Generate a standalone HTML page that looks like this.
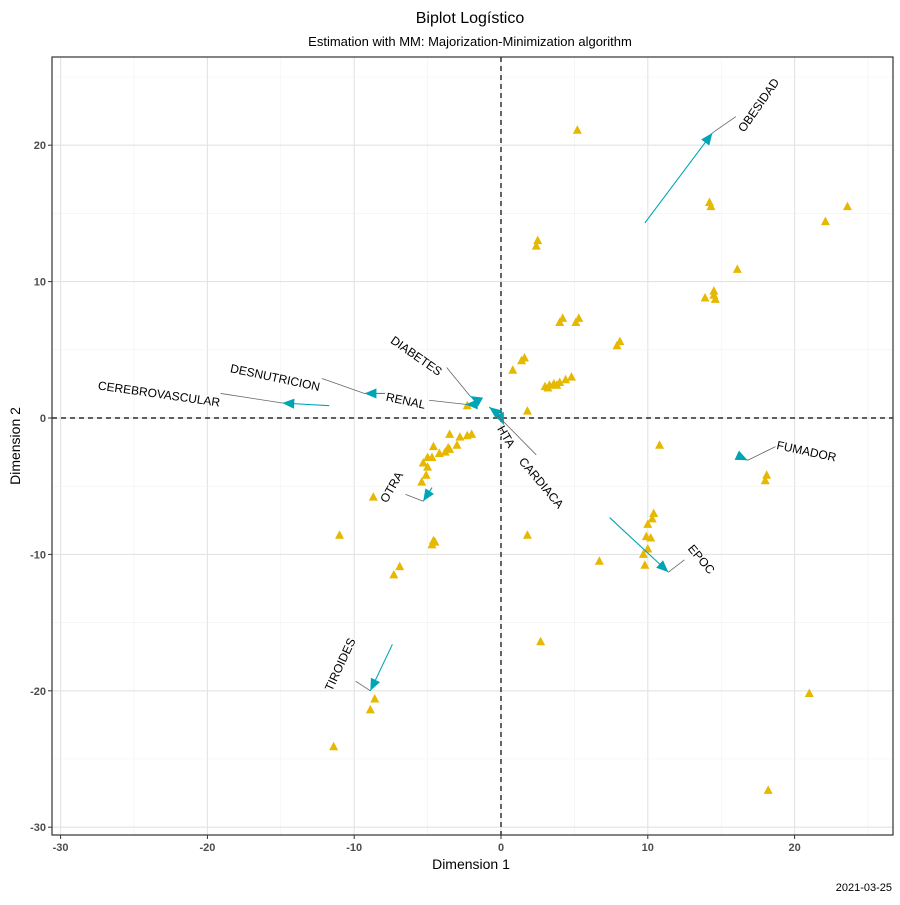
<!DOCTYPE html>
<html><head><meta charset="utf-8"><style>
body{margin:0;background:#fff;font-family:"Liberation Sans",sans-serif}
svg text{font-family:"Liberation Sans",sans-serif}
</style></head><body>
<svg id="c" width="900" height="900" xmlns="http://www.w3.org/2000/svg">
<rect width="900" height="900" fill="#fff"/>
<text x="470" y="23" text-anchor="middle" font-size="16">Biplot Logístico</text>
<text x="470" y="46" text-anchor="middle" font-size="13">Estimation with MM: Majorization-Minimization algorithm</text>
<g id="grid"></g><g id="marks"></g><g id="axes"></g>
<text x="471" y="869" text-anchor="middle" font-size="14">Dimension 1</text>
<text transform="translate(20,446) rotate(-90)" text-anchor="middle" font-size="14">Dimension 2</text>
<text x="892" y="891" text-anchor="end" font-size="11">2021-03-25</text>
</svg>
<script>
const xTicks=[-30,-20,-10,0,10,20];
const yTicks=[-30,-20,-10,0,10,20];
const ptX=[5.2,2.5,2.4,4.0,4.2,5.1,5.3,7.9,8.1,1.6,1.4,0.8,3.0,3.3,3.6,4.0,4.4,4.8,3.2,3.8,1.8,-2.3,14.3,14.2,22.1,23.6,16.1,13.9,14.5,14.5,14.6,10.8,18.1,18.0,10.4,10.3,10.0,9.9,10.0,9.7,9.8,10.2,6.7,1.8,2.7,21.0,18.2,-11.0,-11.4,-8.6,-8.9,-6.9,-7.3,-4.6,-4.7,-4.5,-8.7,-3.5,-2.8,-2.0,-2.3,-4.6,-3.6,-3.8,-4.2,-4.7,-5.0,-5.3,-5.0,-5.1,-5.4,-3.5,-3.0];
const ptY=[21.1,13.0,12.6,7.0,7.3,7.0,7.3,5.3,5.6,4.4,4.2,3.5,2.3,2.4,2.5,2.6,2.8,3.0,2.2,2.4,0.5,0.9,15.5,15.8,14.4,15.5,10.9,8.8,9.0,9.3,8.7,-2.0,-4.2,-4.6,-7.0,-7.4,-7.8,-8.7,-9.6,-10.0,-10.8,-8.8,-10.5,-8.6,-16.4,-20.2,-27.3,-8.6,-24.1,-20.6,-21.4,-10.9,-11.5,-9.0,-9.3,-9.1,-5.8,-1.2,-1.4,-1.2,-1.3,-2.1,-2.2,-2.5,-2.6,-2.9,-2.9,-3.3,-3.6,-4.2,-4.7,-2.3,-2.0];
const varNames=["OBESIDAD","CEREBROVASCULAR","DESNUTRICION","RENAL","DIABETES","HTA","CARDIACA","OTRA","FUMADOR","EPOC","TIROIDES"];
const arrX0=[9.8,-11.7,-7.9,-1.6,-1.6,0,-0.2,-4.7,16.2,7.4,-7.4];
const arrY0=[14.3,0.9,1.8,1.0,1.3,0,0.3,-5.1,-2.8,-7.3,-16.6];
const arrX1=[14.4,-14.9,-9.3,-2.4,-2.1,0.2,-0.8,-5.3,16.8,11.4,-8.9];
const arrY1=[20.9,1.1,1.8,1.0,1.6,-0.5,0.8,-6.1,-3.1,-11.3,-20.0];
const conX=[16.0,-19.1,-12.2,-4.9,-3.7,0.2,2.4,-6.5,18.7,12.5,-9.9];
const conY=[22.1,1.8,2.9,1.3,3.7,-0.5,-2.7,-5.6,-2.1,-10.4,-19.3];
const labX=[17.6,-23.3,-15.4,-6.5,-5.8,0.3,2.7,-7.4,20.8,13.6,-10.9];
const labY=[22.9,1.7,2.9,1.2,4.5,-1.4,-4.8,-5.1,-2.5,-10.4,-18.1];
const labAng=[-55,8,12,12,35,60,50,-60,12,50,-65];

const L=52,R=893,T=57,B=835;
const sx=v=>501+14.68*v, sy=v=>418-13.64*v;
const NS="http://www.w3.org/2000/svg";
function mk(p,tag,a){const e=document.createElementNS(NS,tag);for(const k in a)e.setAttribute(k,a[k]);p.appendChild(e);return e;}
const grid=document.getElementById('grid'),marks=document.getElementById('marks'),axes=document.getElementById('axes');
mk(grid,'rect',{x:L,y:T,width:R-L,height:B-T,fill:'#fff'});
for(let v=-30;v<=25;v+=5){const maj=v%10===0;
 let g=mk(grid,'line',{x1:sx(v),x2:sx(v),y1:T,y2:B,stroke:maj?'#e3e3e3':'#f1f1f1','stroke-width':maj?1.1:0.6});
 }
for(let v=-30;v<=25;v+=5){const maj=v%10===0;
 let g=mk(grid,'line',{y1:sy(v),y2:sy(v),x1:L,x2:R,stroke:maj?'#e3e3e3':'#f1f1f1','stroke-width':maj?1.1:0.6});
 }
let h=mk(marks,'line',{x1:L,x2:R,y1:sy(0),y2:sy(0),stroke:'#000','stroke-dasharray':'5,4','stroke-width':1.2});

let vv=mk(marks,'line',{y1:T,y2:B,x1:sx(0),x2:sx(0),stroke:'#000','stroke-dasharray':'5,4','stroke-width':1.2});

for(let i=0;i<ptX.length;i++){const x=sx(ptX[i]),y=sy(ptY[i]);
 const p=mk(marks,'polygon',{points:`${x},${y-5} ${x-4.5},${y+3.5} ${x+4.5},${y+3.5}`,fill:'#E6B800'});
 }
for(let i=0;i<varNames.length;i++){
 const x0=sx(arrX0[i]),y0=sy(arrY0[i]),x1=sx(arrX1[i]),y1=sy(arrY1[i]);
 const c=mk(marks,'line',{x1:sx(conX[i]),y1:sy(conY[i]),x2:x1,y2:y1,stroke:'#666','stroke-width':0.8});
 
 const ln=mk(marks,'line',{x1:x0,y1:y0,x2:x1,y2:y1,stroke:'#00A5B5','stroke-width':1.1});
 
 const a=Math.atan2(y1-y0,x1-x0),s=13,w=0.4;
 const hd=mk(marks,'polygon',{points:`${x1},${y1} ${x1-s*Math.cos(a-w)},${y1-s*Math.sin(a-w)} ${x1-s*Math.cos(a+w)},${y1-s*Math.sin(a+w)}`,fill:'#00A5B5'});
 
 const t=mk(marks,'text',{x:0,y:0,transform:`translate(${sx(labX[i])},${sy(labY[i])}) rotate(${labAng[i]})`,'text-anchor':'middle','dominant-baseline':'middle','font-size':12,stroke:'#fff','stroke-width':2,'paint-order':'stroke'});
 t.textContent=varNames[i];
 }
mk(axes,'rect',{x:L,y:T,width:R-L,height:B-T,fill:'none',stroke:'#333','stroke-width':1.2});
xTicks.forEach(v=>{mk(axes,'line',{x1:sx(v),x2:sx(v),y1:B,y2:B+4,stroke:'#333'});
 const t=mk(axes,'text',{x:sx(v),y:B+16,'text-anchor':'middle','font-size':11,'font-weight':'bold',fill:'#4d4d4d'});t.textContent=v;
 });
yTicks.forEach(v=>{mk(axes,'line',{x1:L-4,x2:L,y1:sy(v),y2:sy(v),stroke:'#333'});
 const t=mk(axes,'text',{x:L-6,y:sy(v)+4,'text-anchor':'end','font-size':11,'font-weight':'bold',fill:'#4d4d4d'});t.textContent=v;
 });
</script>
</body></html>
